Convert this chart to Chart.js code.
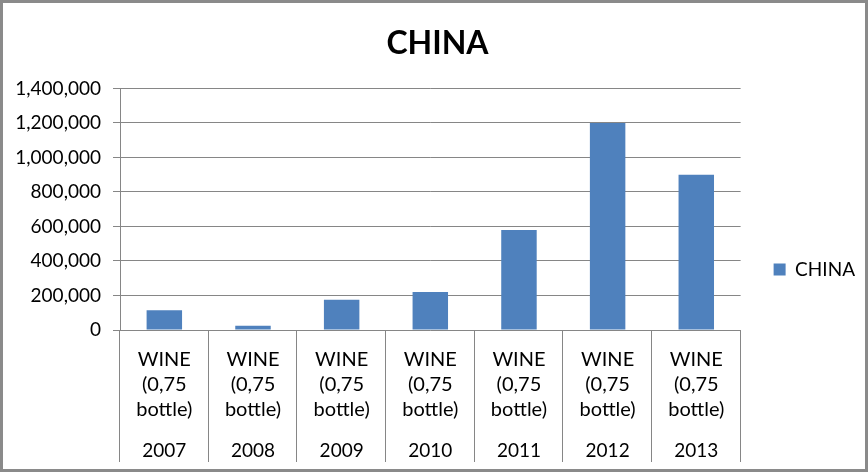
<!DOCTYPE html>
<html>
<head>
<meta charset="utf-8">
<script src="https://cdn.jsdelivr.net/npm/chart.js@4.4.0/dist/chart.umd.min.js"></script>
<style>
  html, body { margin: 0; padding: 0; background: #fff; }
  #wrap { width: 868px; height: 472px; position: relative; }
</style>
</head>
<body>
<div id="wrap"><canvas id="myChart"></canvas></div>
<script>
var years = ['2007', '2008', '2009', '2010', '2011', '2012', '2013'];
var product = ['WINE', '(0,75', 'bottle)'];
var china = [115000, 25000, 175000, 220000, 580000, 1200000, 900000];
var yTicks = [0, 200000, 400000, 600000, 800000, 1000000, 1200000, 1400000];

var gridColor = '#868686';
var font = 'Lato';

// category separators running down through the label rows, plus outer frame
var frame = {
	id: 'frame',
	afterDraw: function(chart) {
		var ctx = chart.ctx;
		var x = chart.scales.x;
		var x2 = chart.scales.x2;
		var n = chart.data.labels.length;
		var w = (x.right - x.left) / n;
		ctx.save();
		ctx.strokeStyle = gridColor;
		ctx.lineWidth = 1;
		for (var i = 0; i <= n; i++) {
			var px = Math.round(x.left + w * i) - 0.5;
			ctx.beginPath();
			ctx.moveTo(px, chart.chartArea.bottom);
			ctx.lineTo(px, x2.bottom);
			ctx.stroke();
		}
		ctx.lineWidth = 3;
		ctx.strokeStyle = '#8a8a8a';
		ctx.strokeRect(1.5, 1.5, chart.width - 3, chart.height - 3);
		ctx.restore();
	}
};

var ctx = document.getElementById('myChart');
var myChart = new Chart(ctx, {
	type: 'bar',
	data: {
		labels: years.map(function() { return product; }),
		datasets: [
			{
				label: 'CHINA',
				data: china,
				backgroundColor: '#4F81BD',
				categoryPercentage: 1,
				barPercentage: 0.4
			}
		]
	},
	options: {
		responsive: true,
		maintainAspectRatio: false,
		animation: false,
		layout: { padding: { left: 10, right: 3, top: 0, bottom: 10 } },
		plugins: {
			title: {
				display: true,
				text: 'CHINA',
				color: '#000',
				font: { family: font, size: 32, weight: 'bold', lineHeight: 1.2 },
				padding: { top: 24, bottom: 26 }
			},
			legend: {
				position: 'right',
				title: { display: true, text: '', font: { size: 1, lineHeight: 1 }, padding: { top: 76, bottom: 0 } },
				labels: {
					color: '#000',
					boxWidth: 12,
					boxHeight: 12,
					padding: 33,
					font: { family: font, size: 19 }
				}
			},
			tooltip: { enabled: false }
		},
		scales: {
			x: {
				grid: { display: false },
				border: { display: false },
				afterFit: function(axis) { axis.height = 92; },
				ticks: {
					color: '#000',
					padding: 9,
					maxRotation: 0,
					autoSkip: false,
					font: { family: font, size: 20, lineHeight: 1.25 }
				}
			},
			x2: {
				type: 'category',
				labels: years,
				position: 'bottom',
				offset: true,
				grid: { display: false },
				border: { display: false },
				afterFit: function(axis) { axis.height = 40; },
				ticks: {
					color: '#000',
					padding: 9,
					maxRotation: 0,
					autoSkip: false,
					font: { family: font, size: 19, lineHeight: 1.25 }
				}
			},
			y: {
				min: 0,
				max: 1400000,
				afterBuildTicks: function(axis) {
					axis.ticks = yTicks.map(function(v) { return { value: v }; });
				},
				afterFit: function(axis) { axis.width = 110; },
				grid: { color: gridColor, tickLength: 7 },
				border: { color: gridColor },
				ticks: {
					color: '#000',
					padding: 12,
					font: { family: font, size: 19 },
					callback: function(v) { return v.toLocaleString('en-US'); }
				}
			}
		}
	},
	plugins: [frame]
});
</script>
</body>
</html>
